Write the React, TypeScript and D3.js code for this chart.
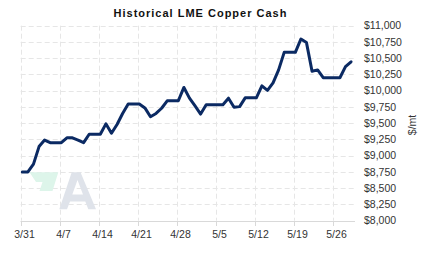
import React from 'react';
import * as d3 from 'd3';

const TITLE = 'Historical LME Copper Cash';
const UNIT_LABEL = '$/mt';

const dates = [
  '2024-03-31', '2024-04-01', '2024-04-02', '2024-04-03', '2024-04-04', '2024-04-05', '2024-04-06',
  '2024-04-07', '2024-04-08', '2024-04-09', '2024-04-10', '2024-04-11', '2024-04-12', '2024-04-13',
  '2024-04-14', '2024-04-15', '2024-04-16', '2024-04-17', '2024-04-18', '2024-04-19', '2024-04-20',
  '2024-04-21', '2024-04-22', '2024-04-23', '2024-04-24', '2024-04-25', '2024-04-26', '2024-04-27',
  '2024-04-28', '2024-04-29', '2024-04-30', '2024-05-01', '2024-05-02', '2024-05-03', '2024-05-04',
  '2024-05-05', '2024-05-06', '2024-05-07', '2024-05-08', '2024-05-09', '2024-05-10', '2024-05-11',
  '2024-05-12', '2024-05-13', '2024-05-14', '2024-05-15', '2024-05-16', '2024-05-17', '2024-05-18',
  '2024-05-19', '2024-05-20', '2024-05-21', '2024-05-22', '2024-05-23', '2024-05-24', '2024-05-25',
  '2024-05-26', '2024-05-27', '2024-05-28', '2024-05-29',
];

const prices = [
  8750, 8750, 8870, 9140, 9240, 9200, 9200,
  9200, 9275, 9275, 9240, 9200, 9330, 9330,
  9330, 9490, 9345, 9480, 9650, 9795, 9795,
  9795, 9735, 9600, 9650, 9730, 9845, 9845,
  9845, 10050, 9885, 9765, 9640, 9785, 9785,
  9785, 9785, 9885, 9745, 9755, 9890, 9890,
  9890, 10075, 10005, 10120, 10320, 10590, 10590,
  10590, 10795, 10740, 10300, 10320, 10200, 10200,
  10200, 10200, 10370, 10445,
];

const yTicks = [8000, 8250, 8500, 8750, 9000, 9250, 9500, 9750, 10000, 10250, 10500, 10750, 11000];
const xTickDates = ['2024-03-31', '2024-04-07', '2024-04-14', '2024-04-21', '2024-04-28', '2024-05-05', '2024-05-12', '2024-05-19', '2024-05-26'];
const xTickLabels = ['3/31', '4/7', '4/14', '4/21', '4/28', '5/5', '5/12', '5/19', '5/26'];
const DOMAIN_START = '2024-03-31';
const DOMAIN_END = '2024-05-30';
const DATA_HOUR = 7;

const parse = d3.timeParse('%Y-%m-%d');

const W = 423;
const H = 257;
const LEFT = 20.7;
const RIGHT = 355;
const TOP = 25.7;
const BOTTOM = 220.7;

export default function App() {
  const x = d3.scaleTime()
    .domain([parse(DOMAIN_START) as Date, parse(DOMAIN_END) as Date])
    .range([LEFT, RIGHT]);
  const y = d3.scaleLinear().domain([8000, 11000]).range([BOTTOM, TOP]);

  const pts = dates.map((d, i) => ({ t: d3.timeHour.offset(parse(d) as Date, DATA_HOUR), v: prices[i] }));
  const line = d3.line<{ t: Date; v: number }>()
    .x((d) => x(d.t))
    .y((d) => y(d.v));

  const fmt = (v: number) => '$' + d3.format(',')(v);
  const font = '"Liberation Sans", Arial, sans-serif';
  const crisp = (v: number) => Math.round(v) + 0.5;

  return (
    <svg
      width={W}
      height={H}
      style={{ position: 'absolute', left: 0, top: 0, background: '#fff' }}
      fontFamily={font}
    >
      <rect width={W} height={H} fill="#fff" />
      {/* grid */}
      {yTicks.map((t) => (
        <line key={'h' + t} x1={LEFT} x2={RIGHT - 1} y1={crisp(y(t))} y2={crisp(y(t))}
          stroke="#e6e6e6" strokeDasharray="5,3" />
      ))}
      {xTickDates.map((d) => (
        <line key={'v' + d} x1={crisp(x(parse(d) as Date))} x2={crisp(x(parse(d) as Date))}
          y1={TOP} y2={BOTTOM} stroke="#e6e6e6" strokeDasharray="5,3" />
      ))}
      {/* watermark */}
      <path d="M29.5,172.3 L58.3,172.3 L52.5,191 L39.5,191 L42.5,182 L36,182 Z" fill="#ddf5ea" />
      <path
        d="M59.3,209.3 L71.7,172.3 L80.5,172.3 L96,209.3 L88.3,209.3 L85.3,201.5 L70,201.5 L67,209.3 Z M72.3,194.5 L83,194.5 L77.5,180 Z"
        fill="#dfe3ea" fillRule="evenodd" />
      {/* x axis */}
      <line x1={LEFT} x2={RIGHT} y1={crisp(BOTTOM)} y2={crisp(BOTTOM)} stroke="#d9d9d9" />
      {xTickDates.map((d, i) => {
        const xx = crisp(x(parse(d) as Date));
        return (
          <g key={'t' + d}>
            <line x1={xx} x2={xx} y1={crisp(BOTTOM)} y2={226} stroke="#d9d9d9" />
            <text x={xx + 3} y={238.3} fontSize={10.5} textAnchor="middle" fill="#333">{xTickLabels[i]}</text>
          </g>
        );
      })}
      {/* y labels */}
      {yTicks.map((t) => (
        <text key={'yl' + t} x={364} y={y(t)} dy="0.36em" fontSize={10.5} fill="#333">{fmt(t)}</text>
      ))}
      <text transform="translate(415.5,125) rotate(-90)" textAnchor="middle" fontSize={10.5} fill="#333">{UNIT_LABEL}</text>
      {/* title */}
      <text x={200.5} y={16.7} textAnchor="middle" fontSize={11} fontWeight="bold" letterSpacing={1} fill="#111">{TITLE}</text>
      {/* line */}
      <path d={line(pts) || ''} fill="none" stroke="#0b2a63" strokeWidth={3} strokeLinejoin="round" strokeLinecap="round" />
    </svg>
  );
}
